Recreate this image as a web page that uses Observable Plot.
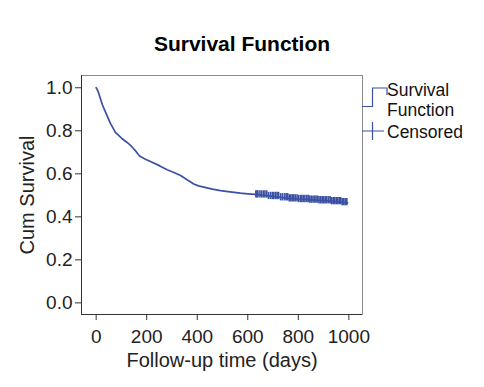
<!DOCTYPE html>
<html>
<head>
<meta charset="utf-8">
<script src="https://cdn.jsdelivr.net/npm/d3@7"></script>
<script src="https://cdn.jsdelivr.net/npm/@observablehq/plot@0.6"></script>
<style>
  html, body { margin: 0; padding: 0; background: #fff; }
  #wrap { position: relative; width: 484px; height: 387px; font-family: "Liberation Sans", Arial, sans-serif; }
  #title { height: 62px; width: 484px; box-sizing: border-box; padding-top: 33px; padding-left: 0px; text-align: center; font-weight: bold; font-size: 21px; color: #000; line-height: 21px; }
  #legend { position: absolute; left: 0; top: 0; }
</style>
</head>
<body>
<div id="wrap">
  <div id="title">Survival Function</div>
  <div id="chart"></div>
  <svg id="legend" width="484" height="387"></svg>
</div>
<script>
// Kaplan-Meier points (days, cumulative survival)
const times = [0, 5, 10, 17, 25, 37, 47, 57, 67, 76, 90, 103, 120, 136, 146, 155, 165, 175, 195, 215, 250, 281, 310, 334, 360, 386, 405, 426, 460, 492, 530, 571, 600, 630, 680, 729, 760, 800, 840, 880, 930, 970, 995];
const survival = [1.0, 0.99, 0.975, 0.949, 0.92, 0.887, 0.86, 0.833, 0.812, 0.793, 0.778, 0.763, 0.748, 0.732, 0.72, 0.708, 0.692, 0.68, 0.668, 0.657, 0.638, 0.619, 0.605, 0.592, 0.572, 0.553, 0.544, 0.538, 0.529, 0.522, 0.516, 0.510, 0.507, 0.504, 0.497, 0.491, 0.486, 0.483, 0.480, 0.477, 0.473, 0.468, 0.465];
// censoring times (days)
const censored = [632, 636, 640, 648, 655, 662, 668, 675, 682, 690, 697, 703, 710, 716, 722, 730, 737, 745, 752, 758, 764, 770, 776, 782, 788, 795, 801, 808, 814, 820, 826, 833, 839, 845, 851, 858, 864, 870, 876, 882, 889, 895, 901, 907, 913, 920, 926, 932, 938, 944, 950, 956, 962, 968, 974, 980, 986, 992];
const xTicks = [0, 200, 400, 600, 800, 1000];
const yTicks = [0.0, 0.2, 0.4, 0.6, 0.8, 1.0];
const xLabel = "Follow-up time (days)";
const yLabel = "Cum Survival";
const legendItems = ["Survival", "Function", "Censored"];

const km = times.map((t, i) => ({t, s: survival[i]}));
const bis = d3.bisector(d => d.t).right;
const cens = censored.map(t => ({t, s: km[Math.max(0, bis(km, t) - 1)].s}));

const blue = "#3b51a3";
const xDom = [-58, 1054];
const yDom = [-0.054, 1.057];
const font = "'Liberation Sans', Arial, sans-serif";

const chart = Plot.plot({
  width: 484,
  height: 325,
  marginTop: 13,
  marginBottom: 73,
  marginLeft: 81,
  marginRight: 122,
  style: {fontFamily: font, fontSize: "19px", color: "#222", background: "#fff"},
  x: {domain: xDom},
  y: {domain: yDom},
  marks: [
    Plot.frame({stroke: "#8a8a8a"}),
    Plot.ruleX([xDom[0]], {stroke: "#333"}),
    Plot.ruleY([yDom[0]], {stroke: "#333"}),
    Plot.axisX({ticks: xTicks, tickSize: 6, tickPadding: 9, stroke: "#333", label: null, tickFormat: d3.format("d")}),
    Plot.axisY({ticks: yTicks, tickSize: 6, tickPadding: 3, stroke: "#333", label: null, tickFormat: d3.format(".1f")}),
    Plot.text([xLabel], {text: d => d, frameAnchor: "bottom", textAnchor: "middle", dy: 52, fontSize: 20, fill: "#222"}),
    Plot.text([yLabel], {text: d => d, frameAnchor: "left", textAnchor: "middle", rotate: -90, dx: -54, fontSize: 20, fill: "#222"}),
    Plot.line(km, {x: "t", y: "s", curve: "linear", stroke: blue, strokeWidth: 1.7}),
    Plot.ruleX(cens, {x: "t", y1: d => d.s - 0.017, y2: d => d.s + 0.017, stroke: blue, strokeWidth: 1.6})
  ]
});
document.getElementById("chart").appendChild(chart);

// legend
const lg = d3.select("#legend");
lg.append("path").attr("d", "M362,106.5H372.5V88H387V95").attr("fill", "none").attr("stroke", blue).attr("stroke-width", 1.2);
lg.append("path").attr("d", "M362,131H384M372.5,122V140").attr("fill", "none").attr("stroke", blue).attr("stroke-width", 1.2);
[[legendItems[0], 96], [legendItems[1], 115.5], [legendItems[2], 138]].forEach(([t, y]) => {
  lg.append("text").attr("x", 387).attr("y", y).attr("font-family", font).attr("font-size", 17.5).attr("fill", "#111").text(t);
});
</script>
</body>
</html>
